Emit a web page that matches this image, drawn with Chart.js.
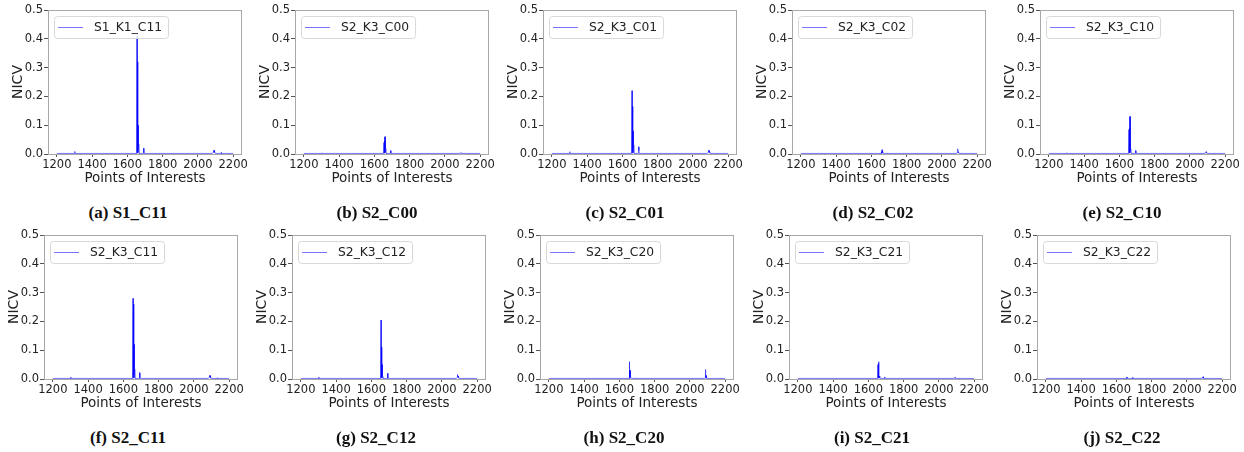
<!DOCTYPE html>
<html><head><meta charset="utf-8">
<script src="https://cdn.jsdelivr.net/npm/chart.js@4.4.0/dist/chart.umd.min.js"></script>
<style>
body{margin:0;background:#fff;width:1244px;height:452px;overflow:hidden;position:relative}
canvas{position:absolute}
.cap{position:absolute;font-family:"Liberation Serif",serif;font-weight:bold;font-size:17px;line-height:20px;color:#111;transform:translateX(-50%);white-space:nowrap}
</style></head><body>
<script>
// ---- data ----
const poi = [1200,1300,1302,1304,1652,1655,1656,1657,1658,1659,1660,1661,1662,1664,1665,1666,1668,1690,1692,1694,1696,2080,2086,2088,2090,2092,2094,2096,2100,2130,2132,2134,2200];
const xTicks = [1200,1400,1600,1800,2000,2200];
const yTicks = [0.0,0.1,0.2,0.3,0.4,0.5];
const seriesLabels = ["S1_K1_C11","S2_K3_C00","S2_K3_C01","S2_K3_C02","S2_K3_C10","S2_K3_C11","S2_K3_C12","S2_K3_C20","S2_K3_C21","S2_K3_C22"];
const captions = ["(a) S1_C11","(b) S2_C00","(c) S2_C01","(d) S2_C02","(e) S2_C10","(f) S2_C11","(g) S2_C12","(h) S2_C20","(i) S2_C21","(j) S2_C22"];
const nicv_a = [0.002,0.002,0.009,0.002,0.002,0.41,0.003,0.32,0.01,0.32,0.02,0.1,0.035,0.005,0.035,0.004,0.002,0.002,0.02,0.004,0.002,0.002,0.005,0.012,0.008,0.013,0.006,0.004,0.002,0.002,0.005,0.002,0.002];
const nicv_b = [0.002,0.002,0.004,0.002,0.002,0.04,0.003,0.045,0.005,0.06,0.01,0.06,0.02,0.004,0.02,0.003,0.002,0.002,0.012,0.003,0.002,0.002,0.003,0.004,0.003,0.004,0.003,0.002,0.002,0.002,0.003,0.002,0.002];
const nicv_c = [0.002,0.002,0.008,0.002,0.002,0.22,0.003,0.165,0.01,0.165,0.02,0.08,0.032,0.004,0.03,0.003,0.002,0.002,0.025,0.012,0.002,0.002,0.005,0.013,0.008,0.012,0.006,0.003,0.002,0.002,0.003,0.002,0.002];
const nicv_d = [0.002,0.002,0.003,0.002,0.002,0.004,0.002,0.006,0.003,0.01,0.004,0.015,0.008,0.003,0.006,0.002,0.002,0.002,0.003,0.002,0.002,0.002,0.004,0.01,0.018,0.008,0.004,0.003,0.002,0.002,0.002,0.002,0.002];
const nicv_e = [0.002,0.002,0.004,0.002,0.002,0.085,0.003,0.09,0.01,0.13,0.01,0.13,0.02,0.004,0.012,0.003,0.002,0.002,0.012,0.003,0.002,0.002,0.003,0.004,0.005,0.008,0.004,0.003,0.002,0.002,0.003,0.002,0.002];
const nicv_f = [0.002,0.002,0.007,0.002,0.002,0.28,0.003,0.26,0.01,0.26,0.02,0.12,0.035,0.004,0.035,0.003,0.002,0.002,0.022,0.004,0.002,0.002,0.005,0.012,0.008,0.012,0.006,0.003,0.002,0.002,0.004,0.002,0.002];
const nicv_g = [0.002,0.002,0.007,0.002,0.002,0.205,0.003,0.11,0.008,0.11,0.01,0.05,0.01,0.003,0.008,0.003,0.002,0.002,0.02,0.003,0.002,0.002,0.005,0.016,0.008,0.01,0.005,0.003,0.002,0.002,0.003,0.002,0.002];
const nicv_h = [0.002,0.002,0.003,0.002,0.002,0.004,0.002,0.06,0.005,0.03,0.008,0.03,0.006,0.003,0.004,0.002,0.002,0.002,0.003,0.002,0.002,0.002,0.003,0.033,0.005,0.012,0.004,0.002,0.002,0.002,0.002,0.002,0.002];
const nicv_i = [0.002,0.002,0.003,0.002,0.002,0.05,0.003,0.055,0.005,0.06,0.008,0.01,0.005,0.003,0.01,0.002,0.002,0.002,0.006,0.003,0.002,0.002,0.003,0.004,0.003,0.005,0.003,0.002,0.002,0.002,0.002,0.002,0.002];
const nicv_j = [0.002,0.002,0.003,0.002,0.002,0.003,0.002,0.004,0.003,0.006,0.003,0.005,0.003,0.002,0.004,0.002,0.002,0.002,0.005,0.002,0.002,0.002,0.003,0.006,0.004,0.008,0.004,0.002,0.002,0.002,0.002,0.002,0.002];
const allSeries = [nicv_a,nicv_b,nicv_c,nicv_d,nicv_e,nicv_f,nicv_g,nicv_h,nicv_i,nicv_j];

// ---- layout ----
const plotLefts = [48,295,543,792,1040, 44,292,540,789,1037];
const plotTops = [10,10,10,10,10, 235,235,235,235,235];
const capCenters = [128,377,625,873,1122, 128,376,624,872,1122];
const capTops = [203,203,203,203,203, 428,428,428,428,428];
const PW = 194, PH = 144, YW = 48, XH = 36, PADT = 10, PADR = 10;
const LINE = 'rgba(0,0,255,0.55)', LINE2 = 'rgba(0,0,254,0.55)';

const framePlugin = {
  id:'frameLegend',
  afterDraw(chart){
    const ctx = chart.ctx, ca = chart.chartArea, ds = chart.data.datasets[0];
    ctx.save();
    ctx.strokeStyle = '#a8a8a8'; ctx.lineWidth = 1;
    ctx.strokeRect(Math.round(ca.left)+0.5, Math.round(ca.top)+0.5, Math.round(ca.width)-1, Math.round(ca.height));
    ctx.font = '12.3px "DejaVu Sans"';
    const tw = ctx.measureText(ds.label).width;
    const x = ca.left+6, y = ca.top+6, w = 40+tw+6, h = 22;
    ctx.beginPath();
    ctx.roundRect(x+0.5, y+0.5, w, h, 3);
    ctx.fillStyle = 'rgba(255,255,255,0.85)'; ctx.fill();
    ctx.strokeStyle = '#d8d8d8'; ctx.stroke();
    ctx.beginPath();
    ctx.moveTo(x+4, y+h/2+0.5); ctx.lineTo(x+29, y+h/2+0.5);
    ctx.strokeStyle = LINE; ctx.stroke();
    ctx.fillStyle = '#222'; ctx.textBaseline = 'middle'; ctx.textAlign = 'left';
    ctx.fillText(ds.label, x+40, y+h/2+1);
    ctx.restore();
  }
};

for (let k = 0; k < 10; k++) {
  const cv = document.createElement('canvas');
  const W = YW + PW + PADR, H = PADT + PH + XH;
  cv.width = W; cv.height = H;
  cv.style.left = (plotLefts[k]-YW)+'px';
  cv.style.top = (plotTops[k]-PADT)+'px';
  cv.style.width = W+'px'; cv.style.height = H+'px';
  document.body.appendChild(cv);
  const cap = document.createElement('div');
  cap.className = 'cap'; cap.textContent = captions[k];
  cap.style.left = capCenters[k]+'px'; cap.style.top = capTops[k]+'px';
  document.body.appendChild(cap);
  const vals = allSeries[k];
  new Chart(cv, {
    type:'line',
    data:{datasets:[{
      label: seriesLabels[k],
      data: poi.map((x,i)=>({x:x, y:vals[i]})),
      borderColor: LINE,
      borderWidth:1, pointRadius:0, tension:0, fill:false,
      segment:{borderColor: c => (Math.floor(c.p0DataIndex/2) % 2) ? LINE : LINE2}
    }]},
    options:{
      responsive:false, animation:false, devicePixelRatio:1,
      layout:{padding:{top:PADT,right:PADR,left:0,bottom:0}},
      plugins:{legend:{display:false}, tooltip:{enabled:false}},
      scales:{
        x:{type:'linear', min:1150, max:2250,
          afterBuildTicks: s => { s.ticks = xTicks.map(v=>({value:v})); },
          afterFit: s => { s.height = XH; },
          grid:{drawOnChartArea:false, drawTicks:true, tickLength:3, tickColor:'#555'},
          border:{display:false},
          ticks:{font:{family:'DejaVu Sans', size:11.5}, color:'#222', padding:1, maxRotation:0, autoSkip:false, callback: v => String(v)},
          title:{display:true, text:'Points of Interests', font:{family:'DejaVu Sans', size:13.5}, color:'#222', padding:{top:0,bottom:3}}
        },
        y:{type:'linear', min:0, max:0.5,
          afterBuildTicks: s => { s.ticks = yTicks.map(v=>({value:v})); },
          afterFit: s => { s.width = YW; },
          grid:{drawOnChartArea:false, drawTicks:true, tickLength:4, tickColor:'#555'},
          border:{display:false},
          ticks:{font:{family:'DejaVu Sans', size:11.5}, color:'#222', padding:1, callback: v => Number(v).toFixed(1)},
          title:{display:true, text:'NICV', font:{family:'DejaVu Sans', size:14}, color:'#222', padding:{top:10,bottom:0}}
        }
      }
    },
    plugins:[framePlugin]
  });
}
</script>
</body></html>
